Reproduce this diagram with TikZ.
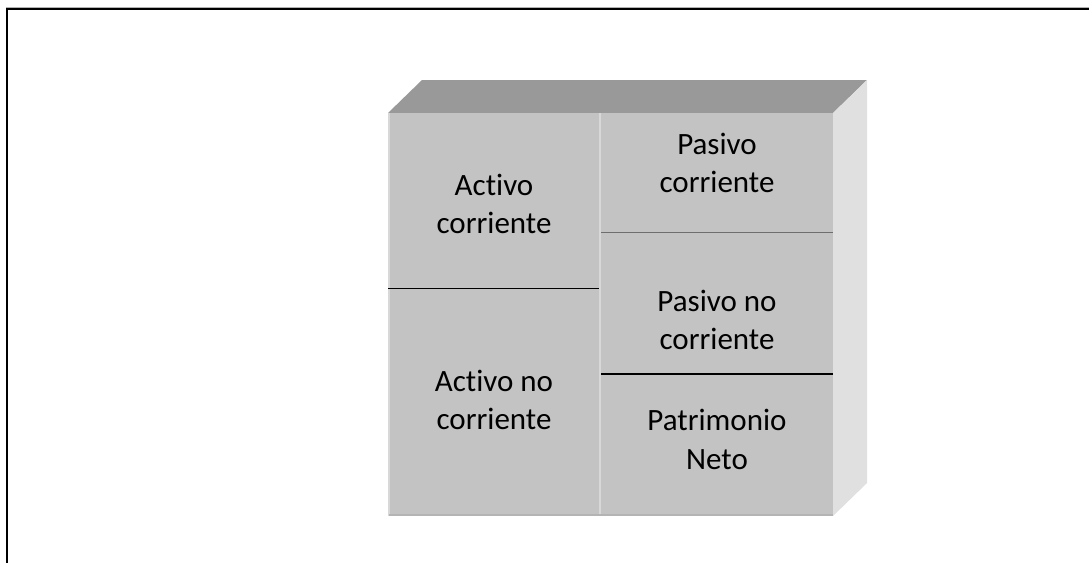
\documentclass[tikz,border=0pt]{standalone}
\usepackage{fontspec}
\setmainfont[Ligatures={NoCommon,NoContextual}]{Carlito}
\definecolor{frontc}{HTML}{C3C3C3}
\definecolor{topc}{HTML}{999999}
\definecolor{sidec}{HTML}{E0E0E0}
\definecolor{edgec}{HTML}{D8D8D8}
\definecolor{bottomc}{HTML}{B4B4B4}
\definecolor{thinc}{HTML}{6E6E6E}
\begin{document}
\begin{tikzpicture}[x=1pt,y=-1pt,
  lbl/.style={font=\fontsize{31}{38}\selectfont, anchor=base, inner sep=0pt, text=black}]
\useasboundingbox (0,0) rectangle (1089,563);
\fill[white] (0,0) rectangle (1089,563);
% frame
\draw[gray!60, line width=1pt] (6,7) -- (1089,7);
\draw[black, line width=2pt] (6,8.5) -- (1089,8.5);
\draw[black, line width=2pt] (7,8) -- (7,563);
% box faces
\fill[topc] (388,113) -- (422,80) -- (867,80) -- (833,113) -- cycle;
\fill[sidec] (833,113) -- (867,80) -- (867,483) -- (833,516) -- cycle;
\fill[frontc] (388,113) rectangle (833,516);
\draw[edgec, line width=2pt] (389,113) -- (389,516);
\draw[edgec, line width=2.5pt] (600,113) -- (600,516);
\draw[bottomc, line width=1.5pt] (389,515) -- (833,515);
% dividers
\draw[black, line width=1.2pt] (388,288.5) -- (599,288.5);
\draw[thinc, line width=1pt] (601,232) -- (833,232);
\draw[black, line width=2.5pt] (601,374) -- (833,374);
% labels
\node[lbl] (ac1) at (494,195) {Activo};
\node[lbl] (ac2) at (494,233) {corriente};
\node[lbl] (anc1) at (494,391) {Activo no};
\node[lbl] (anc2) at (494,429.5) {corriente};
\node[lbl] (pc1) at (717,154) {Pasivo};
\node[lbl] (pc2) at (717,192.5) {corriente};
\node[lbl] (pnc1) at (717,311) {Pasivo no};
\node[lbl] (pnc2) at (717,349) {corriente};
\node[lbl] (pn1) at (717,430) {Patrimonio};
\node[lbl] (pn2) at (717,469) {Neto};
\end{tikzpicture}
\end{document}
